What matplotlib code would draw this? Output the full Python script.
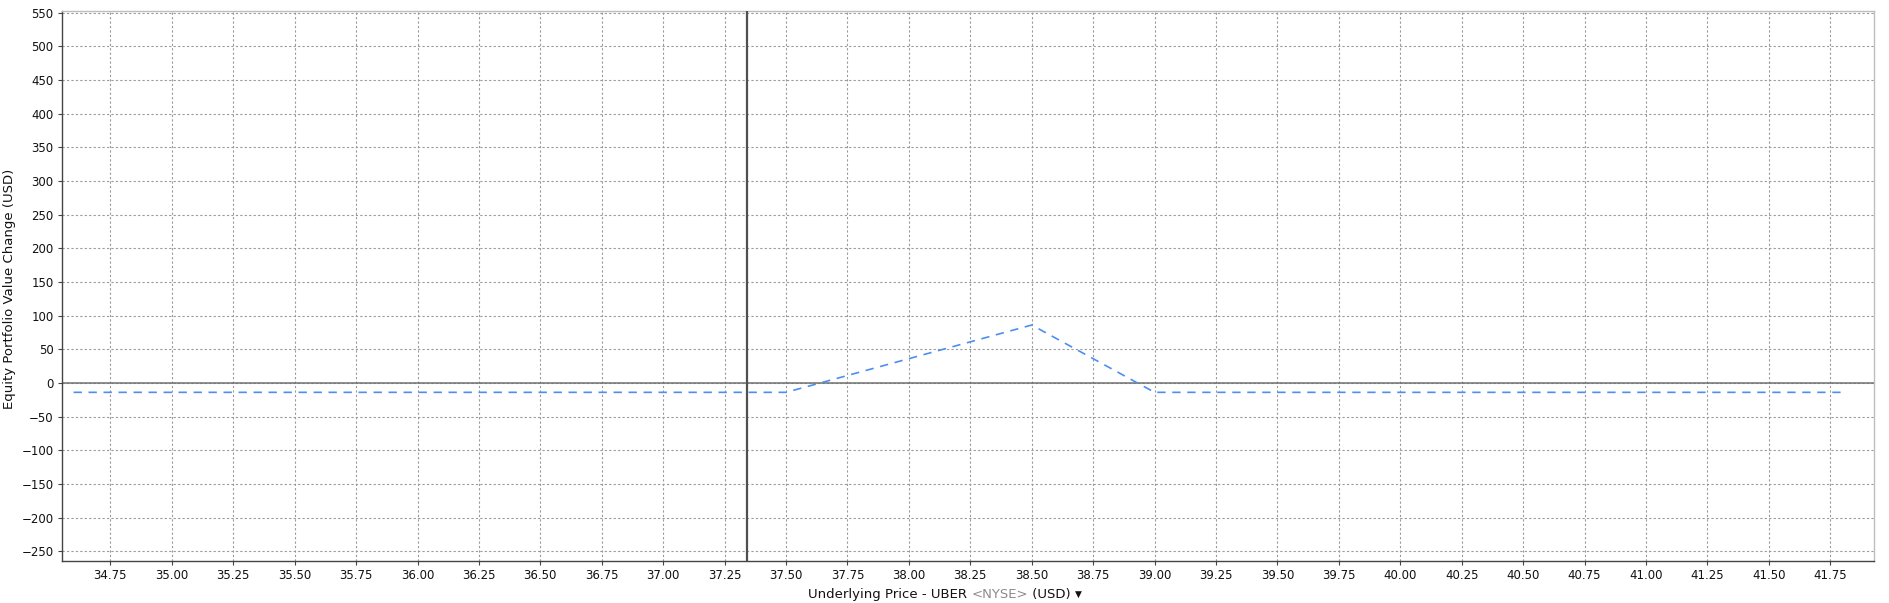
import matplotlib.pyplot as plt
from matplotlib.ticker import FormatStrFormatter

# payoff curve (underlying price, P/L in USD)
prices = [34.60, 37.50, 38.50, 39.00, 41.80]
pnl = [-14, -14, 86, -14, -14]

current_price = 37.34
x_ticks = [34.75 + 0.25 * i for i in range(29)]
y_ticks = list(range(-250, 551, 50))

fig = plt.figure(figsize=(18.9, 6.03), dpi=100)
ax = fig.add_axes([0.0328, 0.0697, 0.9587, 0.9121])

ax.set_xlim(34.553, 41.928)
ax.set_ylim(-264.5, 552.5)
ax.set_xticks(x_ticks)
ax.set_yticks(y_ticks)
ax.xaxis.set_major_formatter(FormatStrFormatter("%.2f"))

ax.grid(True, color="#9a9a9a", linestyle=(0, (2, 2)), linewidth=0.8)
ax.set_axisbelow(True)

ax.axhline(0, color="#707070", linewidth=1.1, zorder=2)
ax.axvline(current_price, color="#505050", linewidth=1.6, zorder=3)
ax.plot(prices, pnl, color="#4d8ef0", linewidth=1.2,
        linestyle=(0, (5, 4)), zorder=4)

for side in ("left", "bottom"):
    ax.spines[side].set_color("#444444")
    ax.spines[side].set_linewidth(1.0)
for side in ("top", "right"):
    ax.spines[side].set_color("#bdbdbd")
    ax.spines[side].set_linewidth(1.0)

ax.tick_params(axis="both", labelsize=8.5, length=3, width=0.8,
               color="#444444", labelcolor="#111111", pad=3)

fig.text(10 / 1890, 0.521, "Equity Portfolio Value Change (USD)",
         fontsize=9.5, color="#111111", rotation=90,
         ha="center", va="center")

# x label with grey exchange tag and dropdown arrow
t1 = fig.text(808 / 1890, 0.0133, "Underlying Price - UBER ", fontsize=9.5,
              color="#111111", ha="left", va="center")
t2 = ax.annotate("<NYSE>", xy=(1, 0), xycoords=t1, fontsize=9.5,
                 color="#8c8c8c", ha="left", va="bottom")
t3 = ax.annotate(" (USD) ", xy=(1, 0), xycoords=t2, fontsize=9.5,
                 color="#111111", ha="left", va="bottom")
ax.annotate("▼", xy=(1, 0.2), xycoords=t3, fontsize=6.5,
            color="#111111", ha="left", va="bottom")

fig.savefig("out.png", dpi=100)
